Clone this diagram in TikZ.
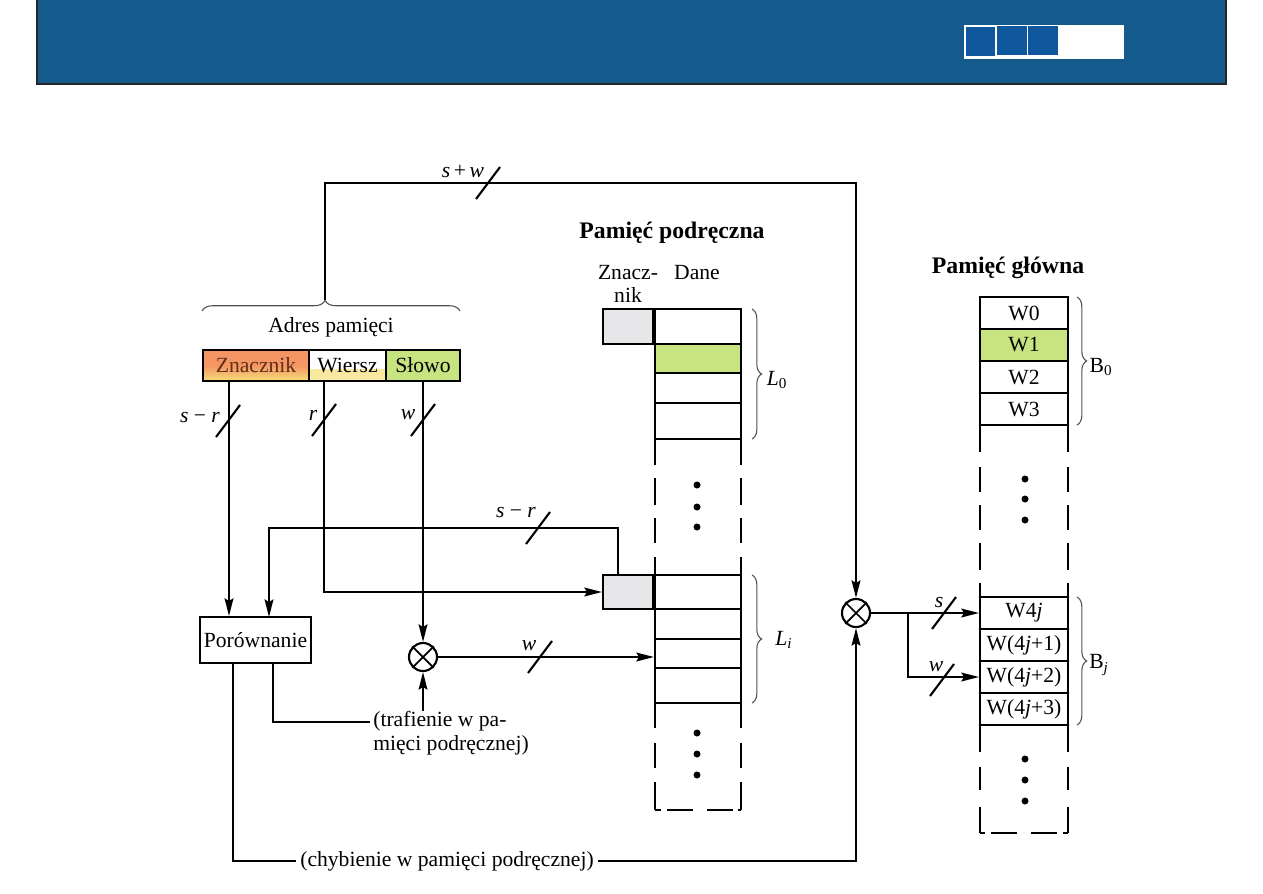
\documentclass[tikz,border=0pt]{standalone}
\usepackage{fontspec}
\setmainfont{Liberation Serif}
\usetikzlibrary{arrows.meta,decorations.pathreplacing}
\definecolor{hdr}{RGB}{20,90,140}
\definecolor{sq}{RGB}{16,88,158}
\definecolor{tagfill}{RGB}{231,231,234}
\definecolor{grn}{RGB}{200,228,128}
\definecolor{orn}{RGB}{243,150,100}
\definecolor{yel}{RGB}{246,222,120}
\definecolor{brcol}{RGB}{80,80,80}
\definecolor{zntext}{RGB}{100,45,20}
\tikzset{busslash/.pic={\draw[line width=1.2pt] (-12,16) -- (12,-16);}}
\begin{document}
\begin{tikzpicture}[x=0.02cm,y=-0.02cm,
  every node/.style={font=\fontsize{12.3}{13.5}\selectfont, inner sep=0pt},
  ln/.style={line width=1.2pt},
  arr/.style={ln,-{Stealth[length=10pt,width=5pt,inset=1.5pt]}},
  cell/.style={draw,line width=1.2pt,minimum height={31*0.02cm}},
  mrow/.style={draw,line width=1.2pt,minimum width={88*0.02cm}},
  crow/.style={draw,line width=1.2pt,minimum width={86*0.02cm}},
  tagbox/.style={draw,line width=1.2pt,fill=tagfill,minimum width={50*0.02cm}},
  mult/.style={circle,draw,line width=1.2pt,minimum size={28*0.02cm}},
  brc/.style={draw=brcol,line width=0.6pt,decorate,decoration={brace,amplitude=5.5pt}},
  titl/.style={font=\fontsize{13.5}{16}\selectfont\bfseries},
]
\useasboundingbox (0,0) rectangle (1263,893);
% header
\fill[hdr] (37,0) rectangle (1226,84);
\draw[line width=0.8pt,black!85] (37,0) -- (37,84) -- (1226,84) -- (1226,0);
\fill[white] (964,25) rectangle (1124,59);
\fill[sq] (966,27) rectangle (995,56);
\fill[sq] (997,26) rectangle (1027,55);
\fill[sq] (1028,26) rectangle (1058,55);

% address
\fill[yel!70] (309,369) rectangle (386,381);
\node[cell,minimum width={106*0.02cm},top color=orn,bottom color=yel,middle color=orn,text=zntext] (zn) at (256,365.5) {Znacznik};
\node[cell,minimum width={77*0.02cm}] (wi) at (347.5,365.5) {Wiersz};
\node[cell,minimum width={74*0.02cm},fill=grn] (sl) at (423,365.5) {Słowo};
\node (adr) at (331,327) {Adres pamięci};
\draw[brc,decoration={brace,amplitude=6pt,aspect=0.477}] (202,311) -- (460,311);
\coordinate (btip) at (325,300);

% comparator and multipliers
\node[draw,line width=1.2pt,minimum width={111*0.02cm},minimum height={46*0.02cm}] (por) at (255.5,640) {Porównanie};
\node[mult] (m1) at (423,657) {};
\draw[line width=1pt] (m1.north west) -- (m1.south east) (m1.north east) -- (m1.south west);
\node[mult] (m2) at (856,613) {};
\draw[line width=1pt] (m2.north west) -- (m2.south east) (m2.north east) -- (m2.south west);

% cache
\node[titl] (tc) at (672,233) {Pamięć podręczna};
\node[align=center] (tz) at (628,284) {Znacz-\\nik};
\node (td) at (697,273) {Dane};
\node[tagbox,minimum height={35*0.02cm}] (t0) at (628,326.5) {};
\node[crow,minimum height={35*0.02cm}] (c01) at (698,326.5) {};
\node[crow,minimum height={29*0.02cm},fill=grn] (c02) at (698,358.5) {};
\node[crow,minimum height={30*0.02cm}] (c03) at (698,388) {};
\node[crow,minimum height={36*0.02cm}] (c04) at (698,421) {};
\node[tagbox,minimum height={34*0.02cm}] (tagi) at (628,592) {};
\node[crow,minimum height={34*0.02cm}] (ci1) at (698,592) {};
\node[crow,minimum height={30*0.02cm}] (ci2) at (698,624) {};
\node[crow,minimum height={29*0.02cm}] (ci3) at (698,653.5) {};
\node[crow,minimum height={35*0.02cm}] (ci4) at (698,685.5) {};
\foreach \x in {655,741}{
  \draw[ln] (\x,439) -- (\x,465);
  \draw[ln] (\x,478) -- (\x,505);
  \draw[ln] (\x,518) -- (\x,543);
  \draw[ln] (\x,557) -- (\x,575);
  \draw[ln] (\x,703) -- (\x,728);
  \draw[ln] (\x,743) -- (\x,768);
  \draw[ln] (\x,782) -- (\x,810);
}
\draw[ln] (655,810) -- (661,810);
\draw[ln] (667,810) -- (693,810);
\draw[ln] (707,810) -- (733,810);
\draw[ln] (738,810) -- (741,810);
\foreach \y in {485,507,527,733,754,775}{\fill (697,\y) circle (3.5);}
\draw[brc] (752,309) -- (752,439);
\node (l0) at (777,380) {\textit{L}\textsubscript{0}};
\draw[brc] (752,575) -- (752,703);
\node (li) at (784,640) {\textit{L}\textsubscript{\textit{i}}};

% main memory
\node[titl] (tm) at (1008,268) {Pamięć główna};
\node[mrow,minimum height={32*0.02cm}] (w0) at (1024,313) {W0};
\node[mrow,minimum height={32*0.02cm},fill=grn] (w1) at (1024,345) {W1};
\node[mrow,minimum height={32*0.02cm}] (w2) at (1024,377) {W2};
\node[mrow,minimum height={32*0.02cm}] (w3) at (1024,409) {W3};
\node[mrow,minimum height={32*0.02cm}] (mj0) at (1024,613) {W4\textit{j}};
\node[mrow,minimum height={32*0.02cm}] (mj1) at (1024,645) {W(4\textit{j}+1)};
\node[mrow,minimum height={32*0.02cm}] (mj2) at (1024,677) {W(4\textit{j}+2)};
\node[mrow,minimum height={32*0.02cm}] (mj3) at (1024,709) {W(4\textit{j}+3)};
\foreach \x in {980,1068}{
  \draw[ln] (\x,425) -- (\x,452);
  \draw[ln] (\x,467) -- (\x,492);
  \draw[ln] (\x,505) -- (\x,530);
  \draw[ln] (\x,543) -- (\x,570);
  \draw[ln] (\x,583) -- (\x,597);
  \draw[ln] (\x,725) -- (\x,752);
  \draw[ln] (\x,767) -- (\x,790);
  \draw[ln] (\x,807) -- (\x,833);
}
\draw[ln] (980,833) -- (985,833);
\draw[ln] (991,833) -- (1017,833);
\draw[ln] (1031,833) -- (1057,833);
\draw[ln] (1063,833) -- (1068,833);
\foreach \y in {479,499,520,759,780,801}{\fill (1025,\y) circle (3.5);}
\draw[brc] (1077,297) -- (1077,425);
\node (b0) at (1101,367) {B\textsubscript{0}};
\draw[brc] (1077,597) -- (1077,725);
\node (bj) at (1099,665) {B\textsubscript{\textit{j}}};

% texts below
\node[align=left] (hit) at (451,733) {(trafienie w pa-\\mięci podręcznej)};
\node[inner xsep=2pt] (miss) at (447,861) {(chybienie w pamięci podręcznej)};

% connectors
\coordinate (topc) at (856,183);
\draw[arr] (btip) |- (topc) -- (m2.north);
\coordinate (zo) at (229,381);
\coordinate (wo) at (324,381);
\draw[arr] (zo) -- (zo |- por.north);
\draw[arr] (wo) |- (tagi.west);
\draw[arr] (sl.south) -- (m1.north);
\coordinate (tio) at (618,575);
\coordinate (pin2) at (269,617);
\draw[arr] (tio) -- (618,528) -| (pin2);
\draw[arr] (m1.east) -- (m1.east -| ci3.west);
\coordinate (po1) at (273,663);
\coordinate (po2) at (233,663);
\draw[ln] (po1) |- (370,722);
\draw[arr] (hit.north -| m1) -- (m1.south);
\draw[ln] (po2) |- (miss.west);
\draw[arr] (miss.east) -| (m2.south);
\draw[arr] (m2.east) -- (m2.east -| mj0.west);
\coordinate (br) at (908,613);
\draw[arr] (br) |- (mj2.west);

% bus width marks
\pic at (488,183) {busslash};
\pic at (228,421) {busslash};
\pic at (324,420) {busslash};
\pic at (423,420) {busslash};
\pic at (538,528) {busslash};
\pic at (540,657) {busslash};
\pic at (944,613) {busslash};
\pic at (942,680) {busslash};
\node (lsw) at (463,171) {\textit{s}\,+\,\textit{w}};
\node (lsr1) at (200,418) {\textit{s} − \textit{r}};
\node (lr) at (313,415) {\textit{r}};
\node (lw1) at (408,415) {\textit{w}};
\node (lsr2) at (516,513) {\textit{s} − \textit{r}};
\node (lw2) at (529,646) {\textit{w}};
\node (ls3) at (939,602) {\textit{s}};
\node (lw3) at (936,667) {\textit{w}};
\end{tikzpicture}
\end{document}
